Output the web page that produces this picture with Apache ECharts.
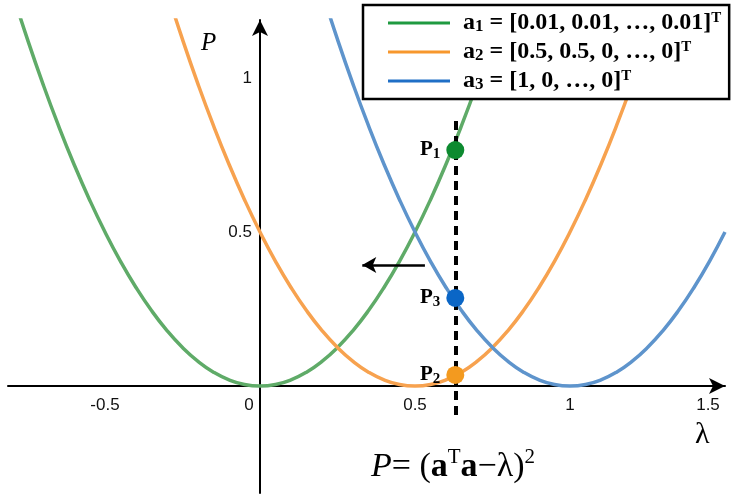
<!DOCTYPE html>
<html>
<head>
<meta charset="utf-8">
<script src="https://cdn.jsdelivr.net/npm/echarts@6/dist/echarts.min.js"></script>
<style>html,body{margin:0;padding:0;background:#fff}#c{width:747px;height:503px}</style>
</head>
<body>
<div id="c"></div>
<script>
// lambda sample points
var lambdas = [-0.8,-0.75,-0.7,-0.65,-0.6,-0.55,-0.5,-0.45,-0.4,-0.35,-0.3,-0.25,-0.2,-0.15,-0.1,-0.05,0,0.05,0.1,0.15,0.2,0.25,0.3,0.35,0.4,0.45,0.5,0.55,0.6,0.65,0.7,0.75,0.8,0.85,0.9,0.95,1.0,1.05,1.1,1.15,1.2,1.25,1.3,1.35,1.4,1.45,1.5];
// P values
var green  = [1.28,1.125,0.98,0.845,0.72,0.605,0.5,0.405,0.32,0.245,0.18,0.125,0.08,0.045,0.02,0.005,0,0.005,0.02,0.045,0.08,0.125,0.18,0.245,0.32,0.405,0.5,0.605,0.72,0.845,0.98,1.125,1.28,null,null,null,null,null,null,null,null,null,null,null,null,null,null];
var orange = [null,null,null,null,null,null,null,null,null,null,1.28,1.125,0.98,0.845,0.72,0.605,0.5,0.405,0.32,0.245,0.18,0.125,0.08,0.045,0.02,0.005,0,0.005,0.02,0.045,0.08,0.125,0.18,0.245,0.32,0.405,0.5,0.605,0.72,0.845,0.98,1.125,1.28,null,null,null,null];
var blue   = [null,null,null,null,null,null,null,null,null,null,null,null,null,null,null,null,null,null,null,null,1.28,1.125,0.98,0.845,0.72,0.605,0.5,0.405,0.32,0.245,0.18,0.125,0.08,0.045,0.02,0.005,0,0.005,0.02,0.045,0.08,0.125,0.18,0.245,0.32,0.405,0.5];
// marked points on the dashed line
var lambda0 = 0.63;
var pointValues = [0.766, 0.036, 0.286]; // P1, P2, P3
var pointNames = ['1','2','3'];
var xTicks = [-0.5, 0, 0.5, 1, 1.5];
var yTicks = [0.5, 1];
var legendNames = ['a1','a2','a3'];

function zip(ys){ return lambdas.map(function(x,i){ return [x, ys[i]]; }); }

var chart = echarts.init(document.getElementById('c'));
var serif = '"Liberation Serif","Times New Roman",serif';
var sans = '"Liberation Sans",Arial,sans-serif';
var legendRich = {
  t: {fontFamily: serif, fontWeight: 'bold', fontSize: 24, color: '#000', lineHeight: 24},
  sub: {fontFamily: serif, fontWeight: 'bold', fontSize: 17, color: '#000', lineHeight: 14, verticalAlign: 'bottom'},
  sup: {fontFamily: serif, fontWeight: 'bold', fontSize: 15, color: '#000', lineHeight: 12, verticalAlign: 'top'}
};
var legendText = {
  a1: '{t|a}{sub|1}{t| = [0.01, 0.01, …, 0.01]}{sup|T}',
  a2: '{t|a}{sub|2}{t| = [0.5, 0.5, 0, …, 0]}{sup|T}',
  a3: '{t|a}{sub|3}{t| = [1, 0, …, 0]}{sup|T}'
};

var option = {
  animation: false,
  grid: {left: 8, right: 22, top: 20, bottom: 10, containLabel: false, outerBoundsMode: 'none'},
  xAxis: {
    type: 'value', min: -0.8129, max: 1.5, position: 'bottom', offset: -107,
    axisLine: {onZero: false, lineStyle: {color: '#000', width: 2}, symbol: ['none','arrow'], symbolSize: [12, 16]},
    axisTick: {show: false},
    splitLine: {show: false},
    axisLabel: {
      customValues: xTicks, margin: 11, fontFamily: sans, fontSize: 17, color: '#111',
      formatter: function(v){
        if (v === 0) return '{z|0}';
        if (v === 1.5) return '{e|1.5}';
        return String(v);
      },
      rich: {
        z: {fontFamily: sans, fontSize: 17, color: '#111', padding: [0, 22, 0, 0]},
        e: {fontFamily: sans, fontSize: 17, color: '#111', padding: [0, 34, 0, 0]}
      }
    }
  },
  yAxis: {
    type: 'value', min: -0.347, max: 1.188, position: 'left', offset: -252,
    axisLine: {onZero: false, lineStyle: {color: '#000', width: 2}, symbol: ['none','arrow'], symbolSize: [12, 16]},
    axisTick: {show: false},
    splitLine: {show: false},
    axisLabel: {customValues: yTicks, margin: 8, fontFamily: sans, fontSize: 17, color: '#111'}
  },
  legend: {
    data: [
      {name: 'a1', itemStyle: {color: '#1f9a40'}},
      {name: 'a2', itemStyle: {color: '#f7972d'}},
      {name: 'a3', itemStyle: {color: '#1f6fc6'}}
    ],
    orient: 'vertical', left: 363, top: 5,
    padding: [6, 8, 6, 25],
    itemGap: 5, itemWidth: 62, itemHeight: 3, icon: 'rect',
    backgroundColor: '#fff', borderColor: '#000', borderWidth: 2.5, borderRadius: 0,
    formatter: function(n){ return legendText[n]; },
    textStyle: {rich: legendRich, padding: [0,0,0,8]}
  },
  title: {
    text: '{i|P}{n|= (}{b|a}{sup|T}{b|a}{n|−λ)}{sup|2}',
    left: 366, top: 442,
    textStyle: {
      fontWeight: 'normal',
      rich: {
        i: {fontFamily: serif, fontStyle: 'italic', fontWeight: 'normal', fontSize: 34, color: '#000', lineHeight: 40},
        n: {fontFamily: serif, fontWeight: 'normal', fontSize: 34, color: '#000', lineHeight: 40},
        b: {fontFamily: serif, fontWeight: 'bold', fontSize: 34, color: '#000', lineHeight: 40},
        sup: {fontFamily: serif, fontWeight: 'normal', fontSize: 21, color: '#000', lineHeight: 24, verticalAlign: 'top'}
      }
    }
  },
  graphic: [
    {type: 'text', left: 201, top: 31, z: 10, style: {text: 'P', fontFamily: serif, fontStyle: 'italic', fontSize: 25, fill: '#000'}},
    {type: 'text', left: 695, top: 420, z: 10, style: {text: 'λ', fontFamily: serif, fontSize: 30, fill: '#000'}}
  ],
  series: [
    {name: 'a1', type: 'line', data: zip(green), smooth: true, showSymbol: false, clip: true,
     lineStyle: {color: '#5fab68', width: 3.5}, itemStyle: {color: '#5fab68'}, z: 3},
    {name: 'a2', type: 'line', data: zip(orange), smooth: true, showSymbol: false, clip: true,
     lineStyle: {color: '#f7a24f', width: 3.5}, itemStyle: {color: '#f7a24f'}, z: 3},
    {name: 'a3', type: 'line', data: zip(blue), smooth: true, showSymbol: false, clip: true,
     lineStyle: {color: '#5e94cc', width: 3.5}, itemStyle: {color: '#5e94cc'}, z: 3,
     markLine: {
       silent: true, symbol: ['none','none'], label: {show: false},
       data: [
         [{coord: [lambda0, -0.094], lineStyle: {color: '#000', width: 4, type: [9, 6]}}, {coord: [lambda0, 0.864]}],
         [{coord: [0.532, 0.393], symbol: 'none', lineStyle: {color: '#000', width: 2.5, type: 'solid'}}, {coord: [0.33, 0.393], symbol: 'arrow', symbolSize: [12, 14]}]
       ]
     }},
    {name: 'points', type: 'scatter', symbolSize: 18, z: 5,
     data: pointValues.map(function(v, i){
       var cols = ['#0d8a30', '#f39a1f', '#0a66c6'];
       return {value: [lambda0, v], itemStyle: {color: cols[i], opacity: 1}, label: {formatter: '{p|P}{s|' + pointNames[i] + '}'}};
     }),
     label: {show: true, position: 'left', distance: 6,
       rich: {
         p: {fontFamily: serif, fontWeight: 'bold', fontSize: 21, color: '#000', lineHeight: 24},
         s: {fontFamily: serif, fontWeight: 'bold', fontSize: 15, color: '#000', lineHeight: 12, verticalAlign: 'bottom'}
       }}}
  ]
};
chart.setOption(option);
</script>
</body>
</html>
